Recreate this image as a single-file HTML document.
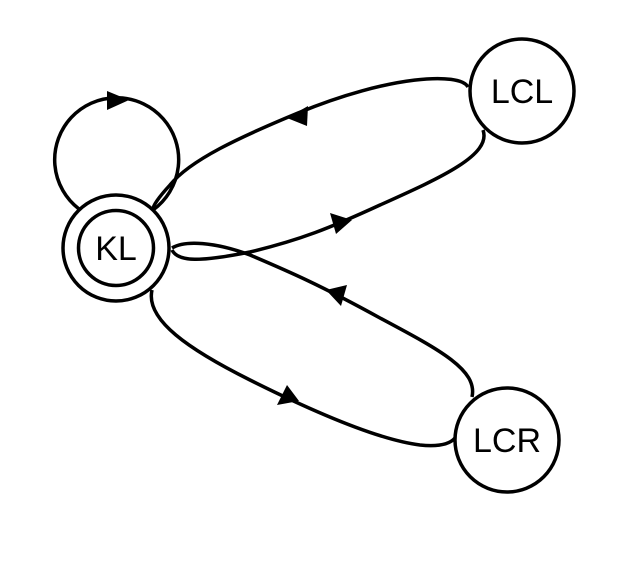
<!DOCTYPE html>
<html><head><style>html,body{margin:0;padding:0;background:#fff}</style></head>
<body>
<svg width="628" height="562" viewBox="0 0 628 562" xmlns="http://www.w3.org/2000/svg">
<g fill="none" stroke="#000" stroke-width="3.5">
<path d="M79,209 A62,62 0 1 1 153,210"/>
<circle cx="116" cy="248" r="53"/>
<circle cx="116" cy="248" r="37.5"/>
<circle cx="522" cy="91" r="52"/>
<circle cx="507" cy="440" r="52"/>
<path d="M468,87 C460,72 390,75 298,113 C240,137 190,160 170,185 C158,198 152,207 153,210"/>
<path d="M172,250 C178,262 200,262 250,252 C300,240 330,228 380,205 C440,178 492,155 483,130"/>
<path d="M172,248 C185,240 215,242 250,255 C290,272 320,285 380,318 C440,350 478,370 472,397"/>
<path d="M152,290 C145,320 190,350 250,380 C320,415 380,440 420,445 C440,447 450,444 455,438"/>
</g>
<g fill="#000">
<polygon points="107,91 129,100 107,110"/>
<polygon points="287,118 308,106 307,126"/>
<polygon points="352,220 330,213 336,234"/>
<polygon points="326,290 347,285 341,306"/>
<polygon points="299,401 277,405 287,385"/>
</g>
<g font-family="'Liberation Sans',sans-serif" font-size="34" text-anchor="middle" fill="#000">
<text x="116" y="260">KL</text>
<text x="522" y="103">LCL</text>
<text x="507" y="452">LCR</text>
</g>
</svg>
</body></html>
